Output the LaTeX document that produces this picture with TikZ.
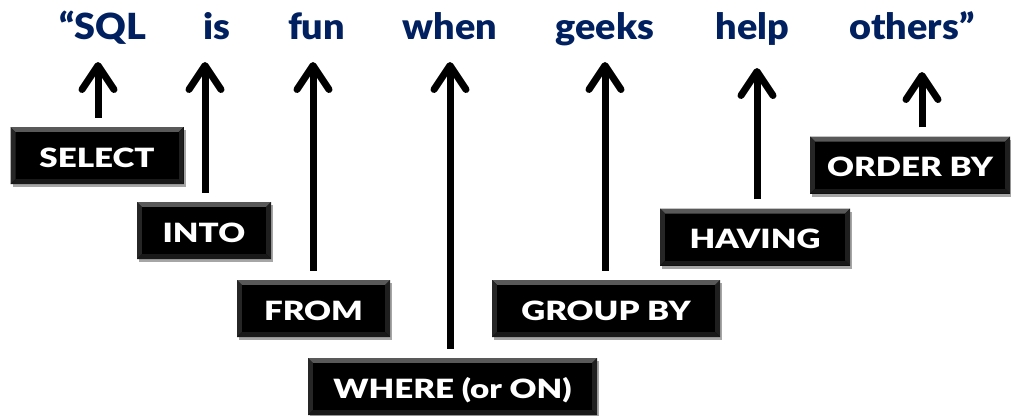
\documentclass[tikz,border=0pt]{standalone}
\usepackage{fontspec}
\setmainfont{Liberation Sans}
\newfontfamily\wordfont{Lato Black}[FakeStretch=1.05]
\newfontfamily\labfont{Lato Black}[FakeStretch=1.25]
\usetikzlibrary{arrows.meta,shadows}
\definecolor{navy}{RGB}{0,32,96}
\tikzset{
  word/.style={anchor=base, text=navy, inner sep=0pt,
    font=\wordfont\fontsize{36}{40}\selectfont},
  kbox/.style={fill=black, text=white, inner sep=0pt, minimum height=57pt,
    text height=23pt, text depth=0pt,
    font=\labfont\fontsize{26.5}{30}\selectfont,
    drop shadow={shadow xshift=2pt, shadow yshift=-3pt, opacity=0.35, fill=black},
    path picture={
      \coordinate (pa) at (path picture bounding box.north west);
      \coordinate (pb) at (path picture bounding box.north east);
      \coordinate (pc) at (path picture bounding box.south east);
      \coordinate (pd) at (path picture bounding box.south west);
      \coordinate (ia) at ([xshift=5pt,yshift=-5pt]pa);
      \coordinate (ib) at ([xshift=-5pt,yshift=-5pt]pb);
      \coordinate (ic) at ([xshift=-5pt,yshift=5pt]pc);
      \coordinate (id) at ([xshift=5pt,yshift=5pt]pd);
      \fill[black!65] (pa) -- (pb) -- (ib) -- (ia) -- cycle;
      \fill[black!85] (pa) -- (ia) -- (id) -- (pd) -- cycle;
      \fill[black!88] (pb) -- (ib) -- (ic) -- (pc) -- cycle;
      \fill[black!90] (pd) -- (id) -- (ic) -- (pc) -- cycle;
      \fill[black] (ia) rectangle (ic);
    }},
  arr/.style={line width=7pt, -{Straight Barb[length=24pt,width=32pt,round]}}
}
\begin{document}
\begin{tikzpicture}[x=1pt,y=-1pt]
\useasboundingbox (0,0) rectangle (1011,415);
% words
\node[word] (w1) at (102.5,39) {“SQL};
\node[word] (w2) at (217,39) {is};
\node[word] (w3) at (316.5,39) {fun};
\node[word] (w4) at (450,39) {when};
\node[word] (w5) at (605,39) {geeks};
\node[word] (w6) at (752.5,39) {help};
\node[word] (w7) at (912,39) {others”};
% arrow tips
\coordinate (t1) at (98,62);
\coordinate (t2) at (205,62);
\coordinate (t3) at (313,62);
\coordinate (t4) at (450,62);
\coordinate (t5) at (605,62);
\coordinate (t6) at (757,68);
\coordinate (t7) at (922,72);
% boxes
\node[kbox, minimum width=173pt] (select) at (97,155.5) {SELECT};
\node[kbox, minimum width=134pt] (into) at (204,230.5) {INTO};
\node[kbox, minimum width=153pt] (from) at (313.5,308.5) {FROM};
\node[kbox, minimum width=289pt] (where) at (452.5,386.5) {WHERE (or ON)};
\node[kbox, minimum width=228pt] (group) at (606,308.5) {GROUP BY};
\node[kbox, minimum width=190pt] (having) at (755,237) {HAVING};
\node[kbox, minimum width=200pt] (order) at (910,165) {ORDER BY};
% arrows
\draw[arr] ([yshift=9pt]select.north -| t1) -- (t1);
\draw[arr] ([yshift=9pt]into.north -| t2) -- (t2);
\draw[arr] ([yshift=9pt]from.north -| t3) -- (t3);
\draw[arr] ([yshift=9pt]where.north -| t4) -- (t4);
\draw[arr] ([yshift=9pt]group.north -| t5) -- (t5);
\draw[arr] ([yshift=9pt]having.north -| t6) -- (t6);
\draw[arr] ([yshift=9pt]order.north -| t7) -- (t7);
\end{tikzpicture}
\end{document}
